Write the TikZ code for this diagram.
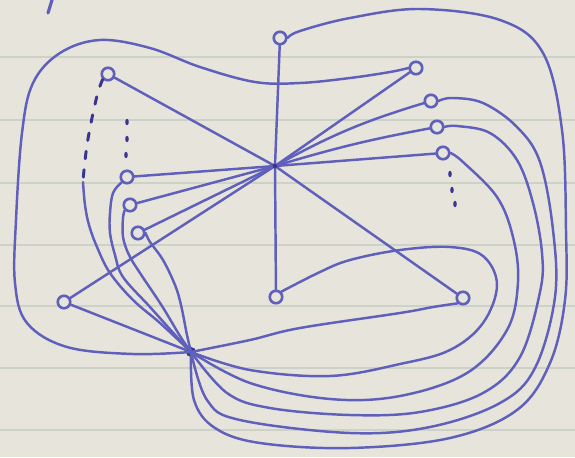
\documentclass[tikz,border=0pt]{standalone}
\usepackage{xcolor}
\usepackage{tikz}
\definecolor{ink}{HTML}{5F5FBC}
\definecolor{inkdark}{HTML}{3A3493}
\definecolor{paper}{HTML}{E7E4DB}
\definecolor{ruled}{HTML}{CDD2C8}
\tikzset{
  ringnode/.style={
    circle, draw=ink, fill=paper, line width=1.5pt,
    minimum size=0.25cm, inner sep=0pt
  },
  hubnode/.style={
    circle, fill=inkdark, minimum size=#1, inner sep=0pt
  },
  hubnode/.default=0.12cm,
  penline/.style={
    draw=ink, line width=1.4pt, line cap=round, line join=round
  },
  loopline/.style={
    penline, smooth, tension=0.6
  },
  gapline/.style={
    penline, line width=1.7pt, draw=inkdark, dash pattern=on 0.15cm off 0.22cm
  },
  ruling/.style={
    draw=ruled, line width=0.9pt
  },
}

\begin{document}
\begin{tikzpicture}[x=0.02cm, y=-0.02cm]
  % paper
  \fill[paper] (0,0) rectangle (575,457);
  \useasboundingbox (0,0) rectangle (575,457);
  \draw[ruling] (0,57) -- (575,57);
  \draw[ruling] (0,120) -- (575,120);
  \draw[ruling] (0,183) -- (575,183);
  \draw[ruling] (0,245) -- (575,245);
  \draw[ruling] (0,306) -- (575,306);
  \draw[ruling] (0,368) -- (575,368);
  \draw[ruling] (0,430) -- (575,430);
  \draw[penline, line width=1.8pt] (52,0) -- (48,13);

  % the two hubs
  \node[hubnode] (hubA) at (275,166) {};
  \node[hubnode=0.2cm] (hubB) at (191,352) {};

  % vertices
  \node[ringnode] (top) at (280,38) {};
  \node[ringnode] (upR) at (416,68) {};
  \node[ringnode] (r1) at (431,101) {};
  \node[ringnode] (r2) at (437,127) {};
  \node[ringnode] (r3) at (443,153) {};
  \node[ringnode] (upL) at (108,74) {};
  \node[ringnode] (l1) at (127,177) {};
  \node[ringnode] (l2) at (130,205) {};
  \node[ringnode] (l3) at (138,233) {};
  \node[ringnode] (lowL) at (64,302) {};
  \node[ringnode] (lowC) at (276,297) {};
  \node[ringnode] (lowR) at (463,298) {};
  \coordinate (lgap) at (83,182);

  % spokes of the upper hub
  \draw[penline] (hubA) -- (top);
  \draw[penline] (hubA) -- (lowC);
  \draw[penline] (hubA) -- (upR);
  \draw[penline] (hubA) to[bend left=6] (r1);
  \draw[penline] (hubA) to[bend left=3] (r2);
  \draw[penline] (hubA) -- (r3);
  \draw[penline] (hubA) -- (upL);
  \draw[penline] (hubA) -- (l1);
  \draw[penline] (hubA) -- (l2);
  \draw[penline] (hubA) -- (l3);
  \draw[penline] (hubA) -- (lowL);
  \draw[penline] (hubA) -- (lowR);

  % lower hub, left side
  \draw[penline] (lowL) -- (hubB);
  \draw[gapline] plot[smooth] coordinates
    {(upL.south west) (98,92) (92,118) (87,145) (84,170) (lgap)};
  \draw[loopline] plot coordinates
    {(lgap) (85,205) (89,225) (97,247) (110,273) (133,300) (160,323) (hubB)};
  \draw[loopline] plot coordinates
    {(l1.south west) (113,193) (110,213) (110,233) (115,255) (123,277) (150,307) (177,337) (hubB)};
  \draw[loopline] plot coordinates
    {(l2.south west) (123,218) (123,237) (129,255) (140,273) (162,306) (180,336) (hubB)};
  \draw[loopline] plot coordinates
    {(l3.east) (150,242) (163,260) (175,285) (181,305) (187,335) (hubB)};

  % big loop round the left
  \draw[loopline] plot coordinates
    {(upR.west) (390,72) (350,78) (300,83) (255,82) (200,67) (150,48) (100,40)
     (60,53) (33,83) (22,133) (16,220) (15,283) (27,323) (67,347) (133,354) (hubB)};

  % lower hub, right side
  \draw[loopline] plot coordinates
    {(hubB) (250,340) (300,328) (400,313) (433,307) (lowR.south west)};
  \draw[loopline] plot coordinates
    {(lowC.north east) (320,272) (350,260) (400,250) (450,247) (483,256) (497,285)
     (483,323) (450,350) (400,364) (330,376) (250,370) (hubB)};
  \draw[loopline] plot coordinates
    {(r3.east) (463,162) (497,197) (513,237) (518,282) (507,330) (467,373)
     (400,396) (330,399) (250,383) (hubB)};
  \draw[loopline] plot coordinates
    {(r2.east) (457,126) (490,133) (517,160) (533,203) (542,253) (540,292)
     (520,357) (483,393) (420,412) (350,415) (270,408) (227,393) (hubB)};
  \draw[loopline] plot coordinates
    {(r1.east) (452,98) (483,103) (517,127) (540,162) (553,230) (555,297)
     (535,368) (500,403) (430,427) (350,433) (240,420) (207,400) (hubB)};
  \draw[loopline] plot coordinates
    {(top.east) (300,31) (350,18) (420,9) (500,20) (543,53) (562,130) (566,230)
     (565,300) (550,363) (517,410) (450,438) (350,448) (260,443) (215,428) (194,400) (hubB)};

  % omitted vertices
  \fill[inkdark] (127,122) ellipse [x radius=1.8, y radius=3.2];
  \fill[inkdark] (127,139) ellipse [x radius=1.8, y radius=3.2];
  \fill[inkdark] (126,155) ellipse [x radius=1.8, y radius=3.2];
  \fill[inkdark] (450,174) ellipse [x radius=1.8, y radius=3.2];
  \fill[inkdark] (452,190) ellipse [x radius=1.8, y radius=3.2];
  \fill[inkdark] (455,204) ellipse [x radius=1.8, y radius=3.2];
\end{tikzpicture}
\end{document}
